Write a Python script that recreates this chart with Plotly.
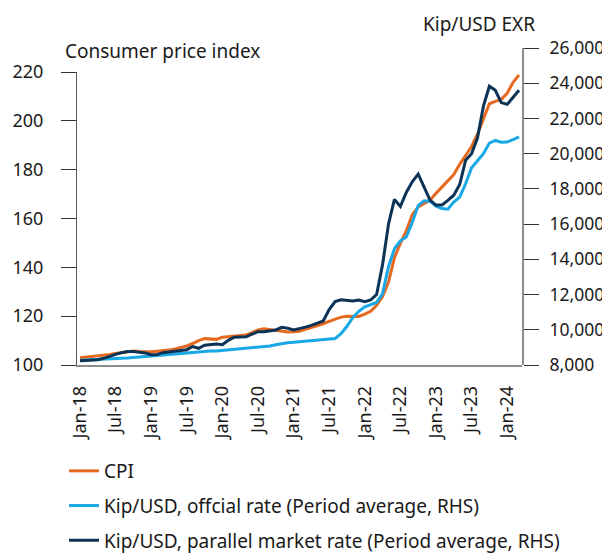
import plotly.graph_objects as go

months = ["Jan", "Feb", "Mar", "Apr", "May", "Jun", "Jul", "Aug", "Sep", "Oct", "Nov", "Dec"]
dates = [f"{m}-{y:02d}" for y in range(18, 25) for m in months][:75]  # Jan-18 .. Mar-24

cpi = [103.0, 103.2, 103.5, 103.8, 104.0, 104.3, 104.7, 105.0, 105.5, 105.7, 105.5, 105.3,
       105.4, 105.6, 105.8, 106.1, 106.6, 107.2, 107.8, 108.8, 110.0, 110.8, 110.7, 110.5,
       111.4, 111.6, 111.6, 111.8, 112.3, 113.3, 114.4, 114.8, 114.4, 114.1, 113.8, 113.5,
       113.6, 113.8, 114.6, 115.3, 116.1, 116.9, 117.9, 118.8, 119.6, 120.0, 120.1, 119.9,
       120.8, 122.0, 124.5, 128.0, 134.0, 144.0, 149.8, 155.0, 161.5, 164.7, 166.2, 167.5,
       170.3, 172.8, 175.5, 178.0, 182.2, 186.0, 189.5, 194.5, 201.0, 207.0, 208.0, 208.8,
       211.3, 215.8, 218.8]

official = [8270, 8280, 8290, 8300, 8320, 8340, 8360, 8380, 8400, 8430, 8460, 8490,
            8520, 8550, 8580, 8600, 8620, 8650, 8680, 8710, 8740, 8770, 8790, 8800,
            8830, 8860, 8890, 8910, 8940, 8970, 8990, 9030, 9080, 9150, 9220, 9260,
            9290, 9320, 9360, 9390, 9410, 9420, 9460, 9500, 9780, 10200, 10700, 11050,
            11300, 11420, 11550, 12050, 13580, 14600, 15050, 15270, 16100, 17050, 17330, 17300,
            17020, 16880, 16850, 17250, 17530, 18300, 19200, 19600, 20000, 20600, 20750, 20650,
            20660, 20800, 20950]

parallel = [8240, 8250, 8260, 8300, 8380, 8470, 8600, 8700, 8760, 8760, 8730, 8680,
            8580, 8600, 8700, 8740, 8800, 8840, 8870, 9050, 8950, 9120, 9150, 9190,
            9150, 9400, 9580, 9590, 9600, 9750, 9890, 9890, 9920, 9990, 10140, 10090,
            9990, 10050, 10150, 10250, 10360, 10500, 11150, 11600, 11700, 11650, 11630, 11690,
            11600, 11700, 12000, 13700, 16000, 17400, 17000, 17800, 18400, 18835, 18100, 17360,
            17080, 17080, 17350, 17640, 18250, 19630, 20000, 20900, 22700, 23830, 23600, 22900,
            22800, 23220, 23600]

tick_labels = dates[::6]

names = ["CPI",
         "Kip/USD, offcial rate (Period average, RHS)",
         "Kip/USD, parallel market rate (Period average, RHS)"]
colors = ["#E5691E", "#19A8E6", "#0B3356"]

FONT = "Noto Sans"
TXT = "#1a1a1a"
FS_TICK = 18
FS_RTICK = 17.5
FS_TEXT = 19

# page body has an 8px margin, so the figure starts 8px in from the window corner
W, H = 602, 565
L, R, T, B = 69, 88, 40, 208
PW, PH = W - L - R, H - T - B


def px(xp):  # window x pixel -> paper coordinate
    return (xp - 8 - L) / PW


def py(yp):  # window y pixel -> paper coordinate
    return (H - B - (yp - 8)) / PH


fig = go.Figure()
fig.add_trace(go.Scatter(x=dates, y=cpi, name=names[0], mode="lines", yaxis="y",
                         line=dict(color=colors[0], width=3), legendgroup="a"))
fig.add_trace(go.Scatter(x=dates, y=official, name=names[1], mode="lines", yaxis="y2",
                         line=dict(color=colors[1], width=3), legendgroup="b"))
fig.add_trace(go.Scatter(x=dates, y=parallel, name=names[2], mode="lines", yaxis="y2",
                         line=dict(color=colors[2], width=3), legendgroup="c"))

fig.update_layout(
    width=W, height=H, autosize=False,
    margin=dict(l=L, r=R, t=T, b=B, autoexpand=False),
    paper_bgcolor="white", plot_bgcolor="rgba(0,0,0,0)",
    font=dict(family=FONT, size=FS_TEXT, color=TXT),
    xaxis=dict(type="category", categoryorder="array", categoryarray=dates,
               range=[-0.5, len(dates) - 0.5], tickmode="array", tickvals=tick_labels,
               ticktext=tick_labels, tickangle=-90, ticks="", showgrid=False,
               showline=True, linecolor="#8c8c8c", linewidth=1.5, anchor="y",
               automargin=False, ticklabelstandoff=12,
               tickfont=dict(size=FS_TICK, color=TXT)),
    yaxis=dict(domain=[0, py(72)], range=[100, 220], dtick=20, ticks="outside",
               ticklen=15, tickcolor="#333", tickwidth=1.2, showline=True,
               linecolor="#555", linewidth=1.2, showgrid=False, zeroline=False,
               automargin=False, ticklabelstandoff=14,
               tickfont=dict(size=FS_TICK, color=TXT)),
    yaxis2=dict(domain=[0, 1], anchor="x", side="right", range=[8000, 26000], dtick=2000,
                tickformat=",", ticks="outside", ticklen=15, tickcolor="#333", tickwidth=1.2,
                showline=True, linecolor="#8c8c8c", linewidth=2, showgrid=False,
                zeroline=False, automargin=False, ticklabelstandoff=7,
                tickfont=dict(size=FS_RTICK, color=TXT)),
    showlegend=True,
    legend=dict(x=px(64), xanchor="left", y=py(452), yanchor="top", tracegroupgap=7,
                font=dict(size=FS_TEXT, color=TXT), bgcolor="rgba(0,0,0,0)"),
    annotations=[
        dict(text="Consumer price index", xref="paper", yref="paper", x=px(63), y=py(51),
             xanchor="left", yanchor="middle", showarrow=False,
             font=dict(size=FS_TEXT, color=TXT)),
        dict(text="Kip/USD EXR", xref="paper", yref="paper", x=px(537), y=py(24),
             xanchor="right", yanchor="middle", showarrow=False,
             font=dict(size=FS_TEXT, color=TXT)),
    ],
)

fig.write_html("out.html")
